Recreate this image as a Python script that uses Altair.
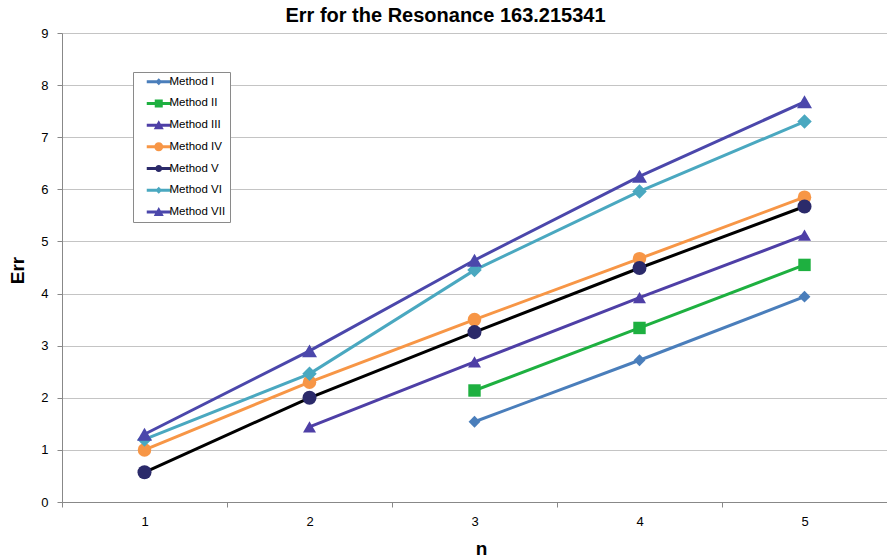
import altair as alt
import pandas as pd

series = ["Method I", "Method II", "Method III", "Method IV", "Method V", "Method VI", "Method VII"]
n_values = [1, 2, 3, 4, 5]
err_I = [None, None, 1.54, 2.72, 3.94]
err_II = [None, None, 2.14, 3.34, 4.55]
err_III = [None, 1.44, 2.69, 3.92, 5.12]
err_IV = [1.00, 2.30, 3.50, 4.67, 5.85]
err_V = [0.57, 2.00, 3.26, 4.49, 5.67]
err_VI = [1.20, 2.46, 4.45, 5.96, 7.30]
err_VII = [1.30, 2.90, 4.64, 6.25, 7.68]
all_err = [err_I, err_II, err_III, err_IV, err_V, err_VI, err_VII]

line_colors = ["#4A7EBB", "#1EB040", "#4E3FA6", "#F79646", "#000000", "#4AA8C0", "#4B47AB"]
marker_colors = ["#4A7EBB", "#1EB040", "#4E3FA6", "#F79646", "#2B2A6A", "#4AA8C0", "#4B47AB"]
marker_shapes = ["diamond", "square", "triangle-up", "circle", "circle", "diamond", "triangle-up"]
marker_sizes = [140, 225, 240, 225, 150, 120, 240]

rows = []
for k, (name, vals) in enumerate(zip(series, all_err)):
    for n, v in zip(n_values, vals):
        if v is not None:
            rows.append({"n": n, "err": v, "series": name, "order": k})
df = pd.DataFrame(rows)

FONT = "Liberation Sans"

# legend symbols: line segment + marker, in units of sqrt(size)/2 px
x0, x1 = 0.8, 5.6
cx = (x0 + x1) / 2
th = 0.3


def line_path():
    return f"M{x0},{-th}H{x1}V{th}H{x0}Z"


def marker_path(shape, r):
    if shape == "diamond":
        return f"M{cx - r},0L{cx},{-r}L{cx + r},0L{cx},{r}Z"
    if shape == "square":
        return f"M{cx - r},{-r}H{cx + r}V{r}H{cx - r}Z"
    if shape == "triangle-up":
        return f"M{cx - r},{r * 0.8}L{cx},{-r}L{cx + r},{r * 0.8}Z"
    return f"M{cx - r},0A{r},{r} 0 1,1 {cx + r},0A{r},{r} 0 1,1 {cx - r},0Z"


legend_r = [0.7, 0.8, 1.0, 0.9, 0.7, 0.7, 1.0]
legend_paths = [line_path() + marker_path(s, r) for s, r in zip(marker_shapes, legend_r)]

x_enc = alt.X(
    "n:O",
    bandPosition=0.5,
    scale=alt.Scale(type="band", paddingInner=0, paddingOuter=0),
    axis=alt.Axis(
        title="n", titleFont=FONT, titleFontSize=19, titleFontWeight="bold", titleColor="#000",
        titleX=419, titleY=46, titleBaseline="middle", titleAnchor="start", titleAlign="center",
        labelAngle=0, labelFont=FONT, labelFontSize=13, labelColor="#000", labelPadding=8,
        tickBand="extent", tickSize=5, tickColor="#888", domainColor="#888", grid=False,
    ),
)
y_enc = alt.Y(
    "err:Q",
    scale=alt.Scale(domain=[0, 9], nice=False, zero=True),
    axis=alt.Axis(
        title="Err", titleFont=FONT, titleFontSize=19, titleFontWeight="bold", titleColor="#000",
        titleX=-45, titleY=237, titleAlign="center", titleBaseline="middle", titleAngle=-90,
        titleAnchor="start",
        values=list(range(10)), format="d", labelFont=FONT, labelFontSize=13, labelColor="#000",
        labelPadding=9, tickSize=5, tickColor="#888", domainColor="#888",
        grid=True, gridColor="#C4C4C4", gridWidth=1.2,
    ),
)

base = alt.Chart(df)

lines = base.mark_line(strokeWidth=3).encode(
    x=x_enc,
    y=y_enc,
    stroke=alt.Stroke("series:N", scale=alt.Scale(domain=series, range=line_colors), legend=None),
)

points = base.mark_point(filled=True, opacity=1, strokeWidth=0).encode(
    x=x_enc,
    y=y_enc,
    fill=alt.Fill("series:N", scale=alt.Scale(domain=series, range=marker_colors), legend=None),
    shape=alt.Shape("series:N", scale=alt.Scale(domain=series, range=marker_shapes), legend=None),
    size=alt.Size("series:N", scale=alt.Scale(domain=series, range=marker_sizes), legend=None),
    order=alt.Order("order:Q"),
)

leg = alt.Legend(
    title=None, orient="none", legendX=71, legendY=39,
    strokeColor="#8A8A8A", fillColor="white", padding=4,
    symbolSize=100, symbolStrokeWidth=0, labelFont=FONT, labelFontSize=11.5,
    labelColor="#000", labelOffset=21, rowPadding=8.7, labelLimit=200,
)

legend_layer = base.mark_point(filled=True, opacity=1).encode(
    x=x_enc,
    y=y_enc,
    color=alt.Color("series:N", scale=alt.Scale(domain=series, range=marker_colors), legend=leg),
    shape=alt.Shape("series:N", scale=alt.Scale(domain=series, range=legend_paths), legend=leg),
).transform_filter("false")

chart = (
    alt.layer(lines, points, legend_layer)
    .resolve_scale(shape="independent", color="independent")
    .properties(
        width=825,
        height=469,
        autosize=alt.AutoSizeParams(type="none"),
        padding={"left": 62, "top": 33, "right": 0, "bottom": 57},
        title=alt.TitleParams(
            "Err for the Resonance 163.215341", font=FONT, fontSize=20, fontWeight="bold",
            color="#000", anchor="middle", frame="group", dx=-29, dy=19,
            baseline="alphabetic",
        ),
    )
    .configure_view(stroke=None)
    .configure(background="white")
)

chart.save("out.html", embed_options={"renderer": "svg", "actions": False})
